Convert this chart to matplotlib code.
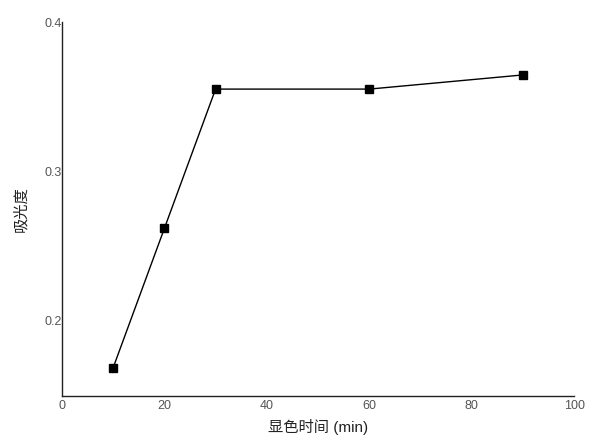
import matplotlib
matplotlib.use('Agg')
import matplotlib.pyplot as plt

plt.rcParams['font.family'] = ['Liberation Sans', 'Noto Sans CJK SC', 'DejaVu Sans']

# colour development time vs absorbance
time_min = [10, 20, 30, 60, 90]
absorbance = [0.168, 0.2615, 0.355, 0.355, 0.3645]

x_ticks = [0, 20, 40, 60, 80, 100]
y_ticks = [0.2, 0.3, 0.4]

fig = plt.figure(figsize=(5.9, 4.41), dpi=100)
ax = fig.add_axes([0.105, 0.102, 0.868, 0.848])

ax.plot(time_min, absorbance, color='black', linewidth=1.0,
        marker='s', markersize=6, markerfacecolor='black', markeredgecolor='black')

ax.set_xlim(0, 100)
ax.set_ylim(0.149, 0.4)
ax.set_xticks(x_ticks)
ax.set_yticks(y_ticks)
ax.set_xticklabels([str(v) for v in x_ticks])
ax.set_yticklabels(['0.2', '0.3', '0.4'])

for side in ['top', 'right']:
    ax.spines[side].set_visible(False)
for side in ['left', 'bottom']:
    ax.spines[side].set_linewidth(1.0)
    ax.spines[side].set_color('#222222')

ax.tick_params(direction='in', length=0, labelsize=9, labelcolor='#555555')
ax.tick_params(axis='y', pad=0)
ax.tick_params(axis='x', pad=3)

ax.set_xlabel('显色时间 (min)', fontsize=11, color='#222222', labelpad=5)
ax.set_ylabel('吸光度', fontsize=11, color='#222222', labelpad=12)

fig.savefig('out.png', dpi=100)
